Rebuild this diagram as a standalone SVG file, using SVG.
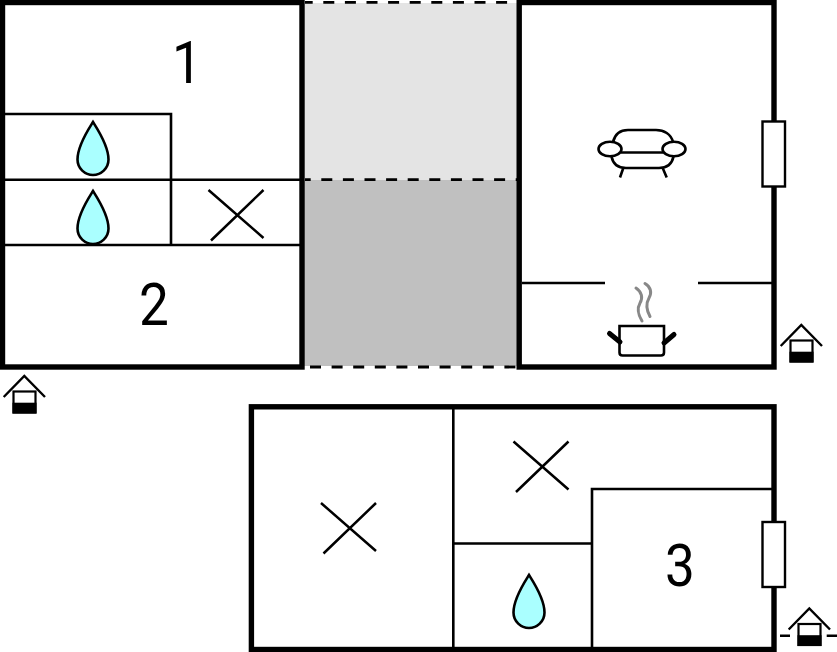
<svg xmlns="http://www.w3.org/2000/svg" width="837" height="652" viewBox="0 0 837 652">
<style>
.wall{fill:none;stroke:#000;stroke-width:5.4}
.thin{fill:none;stroke:#000;stroke-width:2.6}
.cross{fill:none;stroke:#000;stroke-width:2.5}
.dash{fill:none;stroke:#000;stroke-width:2.8;stroke-dasharray:11 10.6}
.drop{fill:#aaffff;stroke:#000;stroke-width:2.6}
.win{fill:#fff;stroke:#000;stroke-width:2.4}
.num{font-family:Roboto,"Liberation Sans",Arial,sans-serif;font-size:59px;fill:#000;text-anchor:middle}
.ico{fill:none;stroke:#000;stroke-width:2.6}
.steam{fill:none;stroke:#888;stroke-width:3;stroke-linecap:round}
</style>
<defs>
<path id="drop" class="drop" d="M0 0.500C5 8.500 15.500 24 15.500 38C15.500 47 8 53.500 0 53.500C-8 53.500-15.500 47-15.500 38C-15.500 24-5 8.500 0 0.500Z"/>
<path id="cross" class="cross" d="M0 0L55 48M55 0L2.500 50.500"/>
<g id="house">
<path d="M0.700 21L21.300 0L42 21" fill="none" stroke="#000" stroke-width="2.400"/>
<rect x="10.500" y="15.500" width="22" height="21" fill="#fff" stroke="#000" stroke-width="2.200"/>
<rect x="9.500" y="26.700" width="24" height="10.800" fill="#000"/>
</g>
</defs>
<rect width="837" height="652" fill="#fff"/>
<g id="floor-plan-top">
<rect x="304" y="3" width="214" height="177" fill="#e4e4e4"/>
<rect x="304" y="180" width="214" height="186" fill="#c0c0c0"/>
<path class="dash" d="M305 2.300H517" stroke-dashoffset="3.300"/>
<path class="dash" d="M305 179.700H517" stroke-dashoffset="5.300"/>
<path class="dash" d="M305 367H517" stroke-dashoffset="16.600"/>
<g id="room-left">
<rect class="wall" x="2.500" y="2.500" width="299.500" height="364.500"/>
<path class="thin" d="M5 114H171V245M5 179.700H300M5 245H300"/>
<use href="#drop" x="93" y="121.500"/>
<use href="#drop" x="93" y="190.500"/>
<use href="#cross" x="208.500" y="190"/>
<text class="num" transform="translate(187 83) scale(.9 1)">1</text>
<text class="num" transform="translate(154 325) scale(.9 1)">2</text>
</g>
<g id="room-right">
<rect class="wall" x="519.200" y="2.500" width="254.800" height="364.500"/>
<path class="thin" d="M522 283H605M698 283H772"/>
<rect class="win" x="762.500" y="121.500" width="22.500" height="65"/>
<g id="sofa" class="ico">
<path d="M613 142C615 134 620 130 628 130H656C664 130 671 134 673 142"/>
<path d="M611.500 156.500C613 164 618 168 626 168H659C667 168 672 164 673.500 156.500"/>
<path d="M621 152.500H663"/>
<ellipse cx="610" cy="149" rx="11.500" ry="7.300" fill="#fff"/>
<ellipse cx="674" cy="149" rx="11.500" ry="7.300" fill="#fff"/>
<path d="M623.300 168L620 177.500M662.700 168L666.700 177.500"/>
</g>
<g id="pot">
<path class="steam" d="M636 288C642 292 643 298 640 303C636 310 639 316 642 321"/>
<path class="steam" d="M645 283.500C651 287 652 293 649 298C645 305 647 311 650 316.500"/>
<path d="M619.500 326H664V352.500C664 354.500 663 355.500 661 355.500H622.500C620.500 355.500 619.500 354.500 619.500 352.500Z" fill="#fff" stroke="#000" stroke-width="2.600"/>
<path d="M609.500 333.500L620 342M674 334.500L664 343" fill="none" stroke="#000" stroke-width="5" stroke-linecap="round"/>
</g>
</g>
<use id="entry-right" href="#house" x="780" y="325"/>
<use id="entry-left" href="#house" x="3" y="376"/>
</g>
<g id="floor-plan-bottom">
<rect class="wall" x="251.400" y="406.800" width="522.600" height="242.700"/>
<path class="thin" d="M453.300 409V647M453.300 543.500H592M592 647V489H772"/>
<rect class="win" x="762.500" y="522" width="22.500" height="65"/>
<use href="#cross" x="513.500" y="441.500"/>
<use href="#cross" x="321" y="503"/>
<use href="#drop" x="529" y="574.500"/>
<text class="num" transform="translate(680 586) scale(.9 1)">3</text>
<g id="entry-bottom">
<use href="#house" x="788" y="608.500"/>
<path class="thin" d="M780 635.700H790M826.700 635.700H837"/>
</g>
</g>
</svg>
